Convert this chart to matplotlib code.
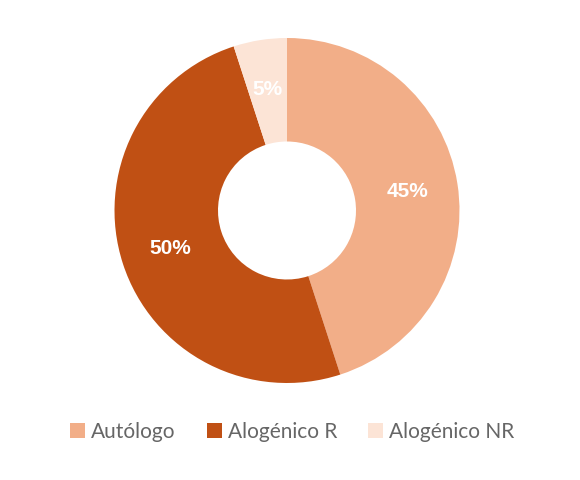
import matplotlib.pyplot as plt

categories = ['Autólogo', 'Alogénico R', 'Alogénico NR']
values = [45, 50, 5]
colors = ['#F2AE88', '#C05014', '#FCE4D6']

fig = plt.figure(figsize=(5.8, 4.8), dpi=100)

# donut: centre (287, 210.5) px, radius ~172.5 px
r_px = 172.5
ax = fig.add_axes([(287 - r_px) / 580, (480 - 210.5 - r_px) / 480,
                   2 * r_px / 580, 2 * r_px / 480])

wedges, texts, autotexts = ax.pie(
    values, colors=colors, startangle=90, counterclock=False,
    radius=1.0, autopct='%1.0f%%', pctdistance=0.71,
    wedgeprops=dict(width=0.6, edgecolor='none'),
    textprops=dict(color='white', fontsize=15, fontweight='bold',
                   family='Liberation Sans'))
ax.set_xlim(-1, 1)
ax.set_ylim(-1, 1)
ax.set_aspect('equal')

leg = fig.legend(wedges, categories, loc='center',
                 bbox_to_anchor=(292.5 / 580, 1 - 432 / 480),
                 ncol=3, frameon=False, handlelength=0.7, handleheight=0.7,
                 handletextpad=0.3, columnspacing=1.5,
                 prop=dict(family='Lato', size=15))
for t in leg.get_texts():
    t.set_color('#666666')

fig.savefig('out.png', dpi=100)
